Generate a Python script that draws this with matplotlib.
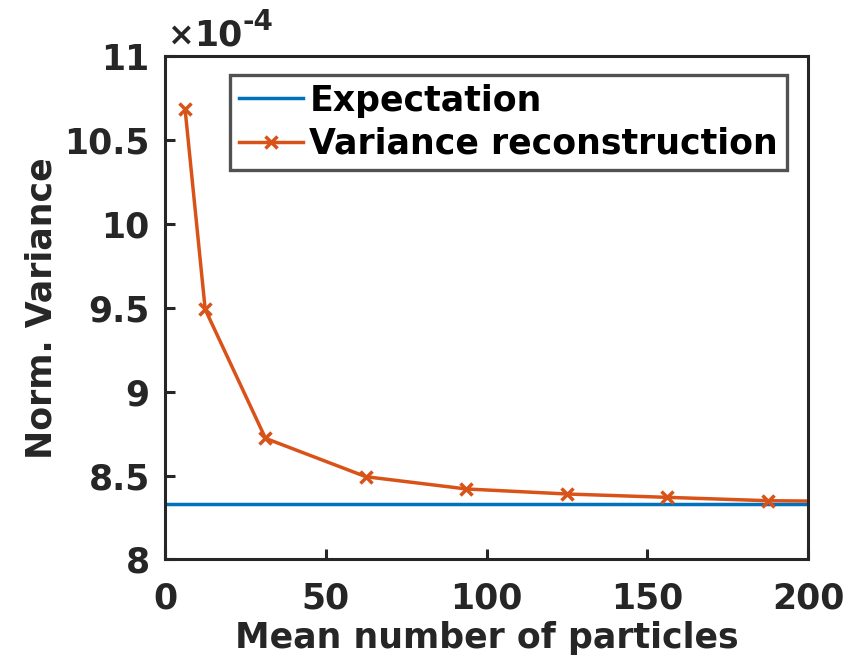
import matplotlib
matplotlib.use("Agg")
import matplotlib.pyplot as plt
from matplotlib.ticker import FuncFormatter, FixedLocator

# Mean number of particles and normalised variance values
particles = [6.25, 12.5, 31.25, 62.5, 93.75, 125.0, 156.25, 187.5, 218.75]
variance_recon = [10.684e-4, 9.491e-4, 8.722e-4, 8.493e-4, 8.420e-4,
                  8.390e-4, 8.370e-4, 8.350e-4, 8.345e-4]
expectation = 1.0 / 1200.0
x_range = [0, 200]
x_ticks = [0, 50, 100, 150, 200]
y_ticks = [8e-4, 8.5e-4, 9e-4, 9.5e-4, 10e-4, 10.5e-4, 11e-4]

blue = "#0072BD"
orange = "#D95319"
axcol = "#262626"
fs = 25

plt.rcParams["font.family"] = ["DejaVu Sans"]
plt.rcParams["font.weight"] = "bold"

W, H = 856, 658
fig = plt.figure(figsize=(W / 100, H / 100), dpi=100)
ax = fig.add_axes([165 / W, 1 - 559.4 / H, (808 - 165) / W, (559.4 - 56.3) / H])

ax.plot(x_range, [expectation, expectation], color=blue, lw=2.5, label="Expectation")
ax.plot(particles, variance_recon, color=orange, lw=2.5, marker="x", ms=9, mew=2.5,
        label="Variance reconstruction", clip_on=True)

ax.set_xlim(0, 200)
ax.set_ylim(8e-4, 11e-4)
ax.xaxis.set_major_locator(FixedLocator(x_ticks))
ax.yaxis.set_major_locator(FixedLocator(y_ticks))
ax.yaxis.set_major_formatter(FuncFormatter(lambda v, p: f"{v / 1e-4:g}"))

for s in ax.spines.values():
    s.set_color(axcol)
    s.set_linewidth(2.2)
ax.tick_params(direction="in", length=7, width=2.2, colors=axcol, labelsize=fs,
               top=False, right=False)
ax.tick_params(axis="x", pad=16)
ax.tick_params(axis="y", pad=11)
for lab in ax.get_xticklabels() + ax.get_yticklabels():
    lab.set_fontweight("bold")

ax.set_xlabel("Mean number of particles", fontsize=fs, fontweight="bold", color=axcol, labelpad=4)
ax.set_ylabel("Norm. Variance", fontsize=fs, fontweight="bold", color=axcol, labelpad=4)

# Exponent label above the y axis
fig.text(167 / W, 1 - 45 / H, r"$\times$", fontsize=23, color=axcol,
         ha="left", va="baseline", fontweight="normal")
fig.text(194 / W, 1 - 45 / H, "10", fontsize=fs, color=axcol,
         ha="left", va="baseline", fontweight="bold")
fig.text(242 / W, 1 - 30 / H, "-4", fontsize=20, color=axcol,
         ha="left", va="baseline", fontweight="bold")

leg = ax.legend(loc="upper right", bbox_to_anchor=(0.967, 0.963), fontsize=fs,
                frameon=True, fancybox=False, handlelength=1.87, handletextpad=0.17,
                borderpad=0.25, labelspacing=0.27, borderaxespad=0)
leg.get_frame().set_edgecolor(axcol)
leg.get_frame().set_linewidth(2.4)
for t in leg.get_texts():
    t.set_fontweight("bold")
    t.set_color("black")

fig.savefig("out.png", dpi=100)
